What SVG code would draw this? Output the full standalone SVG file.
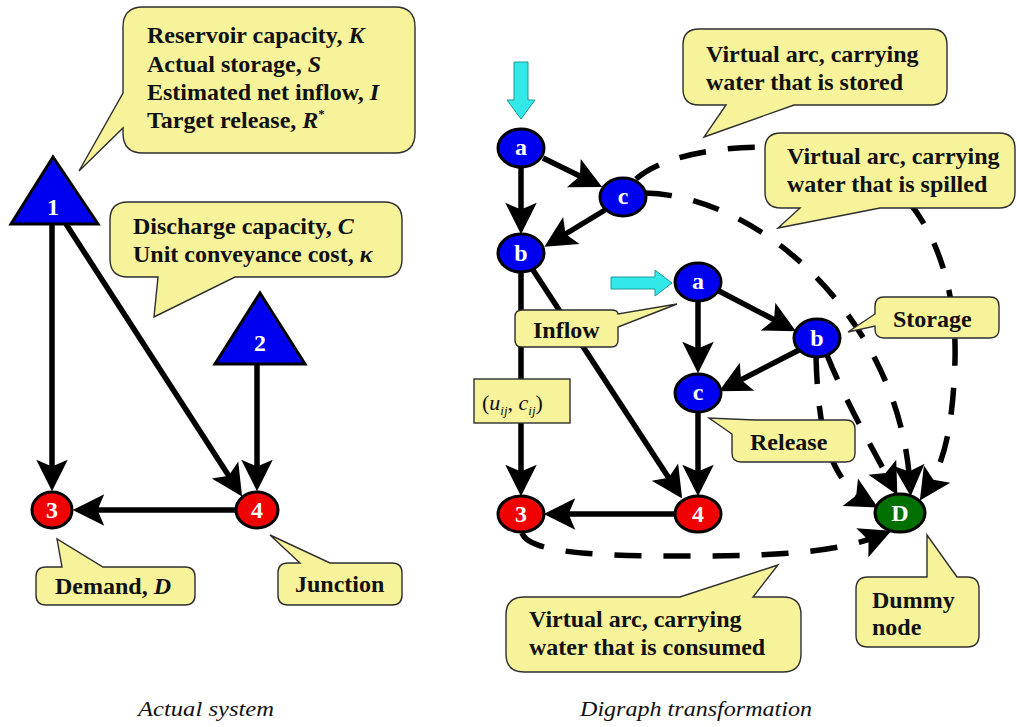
<svg xmlns="http://www.w3.org/2000/svg" width="1017" height="727" viewBox="0 0 1017 727">
<style>
.bg{fill:#ffffff}
.edge{fill:none;stroke:#000;stroke-width:5.5;marker-end:url(#ah)}
.dash{fill:none;stroke:#000;stroke-width:5.5;stroke-dasharray:27 22;marker-end:url(#ah)}
.call{fill:#f6f39b;stroke:#2e2e2e;stroke-width:1.4}
.ct{font-family:"Liberation Serif","DejaVu Serif","Times New Roman",serif;font-weight:bold;font-size:24px;fill:#111}
.it{font-style:italic}
.blue{fill:#0000f0;stroke:#000;stroke-width:3}
.red{fill:#f00000;stroke:#000;stroke-width:3}
.green{fill:#007000;stroke:#000;stroke-width:3}
.nl{font-family:"Liberation Serif","DejaVu Serif","Times New Roman",serif;font-weight:bold;font-size:24px;fill:#fff;text-anchor:middle}
.cyan{fill:#33e8e8;stroke:#1a9a9a;stroke-width:1}
.cap{font-family:"Liberation Serif","DejaVu Serif","Times New Roman",serif;font-style:italic;font-size:22px;fill:#111}
</style>
<defs>
<marker id="ah" markerUnits="userSpaceOnUse" markerWidth="36" markerHeight="36" viewBox="-18 -16 32 32" refX="2" refY="0" orient="auto">
<path d="M12,0 L-16,-14 L-10,0 L-16,14 Z" fill="#000"/>
</marker>
</defs>
<rect class="bg" x="0" y="0" width="1017" height="727"/>

<g id="connectors">
<path class="edge" d="M52,224 V480"/>
<path class="edge" d="M66,224 L236,487"/>
<path class="edge" d="M257,364 V480"/>
<path class="edge" d="M235,510 H84"/>
<path class="edge" d="M543,158 L592,182"/>
<path class="edge" d="M521,167 V223"/>
<path class="edge" d="M605,210 L554,241"/>
<path class="edge" d="M521,272 V485"/>
<path class="edge" d="M533,270 L676,489"/>
<path class="edge" d="M719,291 L786,326"/>
<path class="edge" d="M698,301 V362"/>
<path class="edge" d="M799,350 L729,386"/>
<path class="edge" d="M698,412 V485"/>
<path class="edge" d="M675,514 H555"/>
<path class="dash" d="M636,179 C680,140 820,135 880,175 C930,210 957,280 955,360 C953,425 945,462 926,491"/>
<path class="dash" d="M645,193 C760,195 900,320 910,485"/>
<path class="dash" d="M816,357 C818,420 825,478 868,502"/>
<path class="dash" d="M827,355 C845,400 872,448 892,485"/>
<path class="dash" d="M522,533 C530,556 620,556 700,556 C790,556 845,550 881,535"/>
<polygon class="cyan" points="514,62 528,62 528,100 535,100 521,119 507,100 514,100"/>
<polygon class="cyan" points="611,277 655,277 655,270 672,283 655,296 655,289 611,289"/>
</g>

<g id="callout-reservoir">
<path class="call" d="M143,7 H395 Q415,7 415,27 V133 Q415,153 395,153 H143 Q123,153 123,133 V128 L79,171 L123,93 V27 Q123,7 143,7 Z"/>
<text class="ct" x="147" y="43">Reservoir capacity, <tspan class="it">K</tspan></text>
<text class="ct" x="147" y="72">Actual storage, <tspan class="it">S</tspan></text>
<text class="ct" x="147" y="100">Estimated net inflow, <tspan class="it">I</tspan></text>
<text class="ct" x="147" y="128">Target release, <tspan class="it">R</tspan><tspan font-size="13" dy="-10">*</tspan></text>
</g>
<g id="callout-discharge">
<path class="call" d="M128,202 H384 Q402,202 402,220 V259 Q402,277 384,277 H235 L154,317 L158,277 H128 Q110,277 110,259 V220 Q110,202 128,202 Z"/>
<text class="ct" x="133" y="234">Discharge capacity, <tspan class="it">C</tspan></text>
<text class="ct" x="133" y="262">Unit conveyance cost, <tspan class="it">κ</tspan></text>
</g>
<g id="callout-demand">
<path class="call" d="M46,567 H62 L57,539 L103,567 H185 Q195,567 195,577 V595 Q195,605 185,605 H46 Q36,605 36,595 V577 Q36,567 46,567 Z"/>
<text class="ct" x="55" y="594">Demand, <tspan class="it">D</tspan></text>
</g>
<g id="callout-junction">
<path class="call" d="M288,563 H300 L270,535 L330,563 H392 Q402,563 402,573 V595 Q402,605 392,605 H288 Q278,605 278,595 V573 Q278,563 288,563 Z"/>
<text class="ct" x="295" y="592">Junction</text>
</g>
<g id="callout-stored">
<path class="call" d="M699,29 H931 Q947,29 947,45 V89 Q947,105 931,105 H794 L704,137 L726,105 H699 Q683,105 683,89 V45 Q683,29 699,29 Z"/>
<text class="ct" x="706" y="62">Virtual arc, carrying</text>
<text class="ct" x="706" y="90">water that is stored</text>
</g>
<g id="callout-spilled">
<path class="call" d="M781,133 H999 Q1015,133 1015,149 V192 Q1015,208 999,208 H880 L778,228 L800,208 H781 Q765,208 765,192 V149 Q765,133 781,133 Z"/>
<text class="ct" x="787" y="164">Virtual arc, carrying</text>
<text class="ct" x="787" y="192">water that is spilled</text>
</g>
<g id="callout-inflow">
<path class="call" d="M522,310 H611 Q618,310 618,314 L677,304 L618,327 V340 Q618,347 611,347 H522 Q515,347 515,340 V317 Q515,310 522,310 Z"/>
<text class="ct" x="533" y="338">Inflow</text>
</g>
<g id="label-uc">
<rect class="call" x="474" y="379" width="96" height="44"/>
<text x="482" y="410" style="font-family:'Liberation Serif','DejaVu Serif',serif;font-size:22px;fill:#111">(<tspan class="it">u</tspan><tspan class="it" font-size="13" dy="5">ij</tspan><tspan dy="-5">, </tspan><tspan class="it">c</tspan><tspan class="it" font-size="13" dy="5">ij</tspan><tspan dy="-5">)</tspan></text>
</g>
<g id="callout-storage">
<path class="call" d="M884,297 H990 Q999,297 999,306 V329 Q999,338 990,338 H884 Q875,338 875,329 V326 L848,332 L875,314 V306 Q875,297 884,297 Z"/>
<text class="ct" x="893" y="327">Storage</text>
</g>
<g id="callout-release">
<path class="call" d="M755,420 H846 Q855,420 855,429 V453 Q855,462 846,462 H741 Q732,462 732,453 V434 L709,418 Z"/>
<text class="ct" x="750" y="450">Release</text>
</g>
<g id="callout-consumed">
<path class="call" d="M524,597 H680 L778,565 L753,597 H783 Q801,597 801,615 V654 Q801,672 783,672 H524 Q506,672 506,654 V615 Q506,597 524,597 Z"/>
<text class="ct" x="529" y="627">Virtual arc, carrying</text>
<text class="ct" x="529" y="655">water that is consumed</text>
</g>
<g id="callout-dummy">
<path class="call" d="M868,577 H927 V535 L957,577 H967 Q979,577 979,589 V635 Q979,647 967,647 H868 Q856,647 856,635 V589 Q856,577 868,577 Z"/>
<text class="ct" x="872" y="608">Dummy</text>
<text class="ct" x="872" y="635">node</text>
</g>

<g id="node-1"><polygon class="blue" points="53,157 11,224 98,224"/><text class="nl" x="53" y="215" font-size="20">1</text></g>
<g id="node-2"><polygon class="blue" points="260,293 215,364 305,364"/><text class="nl" x="260" y="351" font-size="21">2</text></g>
<g id="node-3"><ellipse class="red" cx="52" cy="510" rx="20" ry="18"/><text class="nl" x="52" y="518">3</text></g>
<g id="node-4"><ellipse class="red" cx="257" cy="510" rx="21" ry="18"/><text class="nl" x="257" y="518">4</text></g>

<g id="node-a1"><ellipse class="blue" cx="521" cy="148" rx="23" ry="19"/><text class="nl" x="521" y="155">a</text></g>
<g id="node-c1"><ellipse class="blue" cx="623" cy="197" rx="23" ry="19"/><text class="nl" x="623" y="204">c</text></g>
<g id="node-b1"><ellipse class="blue" cx="521" cy="253" rx="23" ry="19"/><text class="nl" x="521" y="261">b</text></g>
<g id="node-a2"><ellipse class="blue" cx="698" cy="282" rx="23" ry="19"/><text class="nl" x="698" y="289">a</text></g>
<g id="node-b2"><ellipse class="blue" cx="817" cy="338" rx="23" ry="19"/><text class="nl" x="817" y="346">b</text></g>
<g id="node-c2"><ellipse class="blue" cx="698" cy="393" rx="23" ry="19"/><text class="nl" x="698" y="400">c</text></g>
<g id="node-3b"><ellipse class="red" cx="521" cy="514" rx="23" ry="18"/><text class="nl" x="521" y="522">3</text></g>
<g id="node-4b"><ellipse class="red" cx="698" cy="514" rx="23" ry="18"/><text class="nl" x="698" y="522">4</text></g>
<g id="node-D"><ellipse class="green" cx="900" cy="513" rx="25" ry="19"/><text class="nl" x="900" y="521">D</text></g>

<text class="cap" x="138" y="716" textLength="136" lengthAdjust="spacingAndGlyphs">Actual system</text>
<text class="cap" x="580" y="716" textLength="232" lengthAdjust="spacingAndGlyphs">Digraph transformation</text>
</svg>
